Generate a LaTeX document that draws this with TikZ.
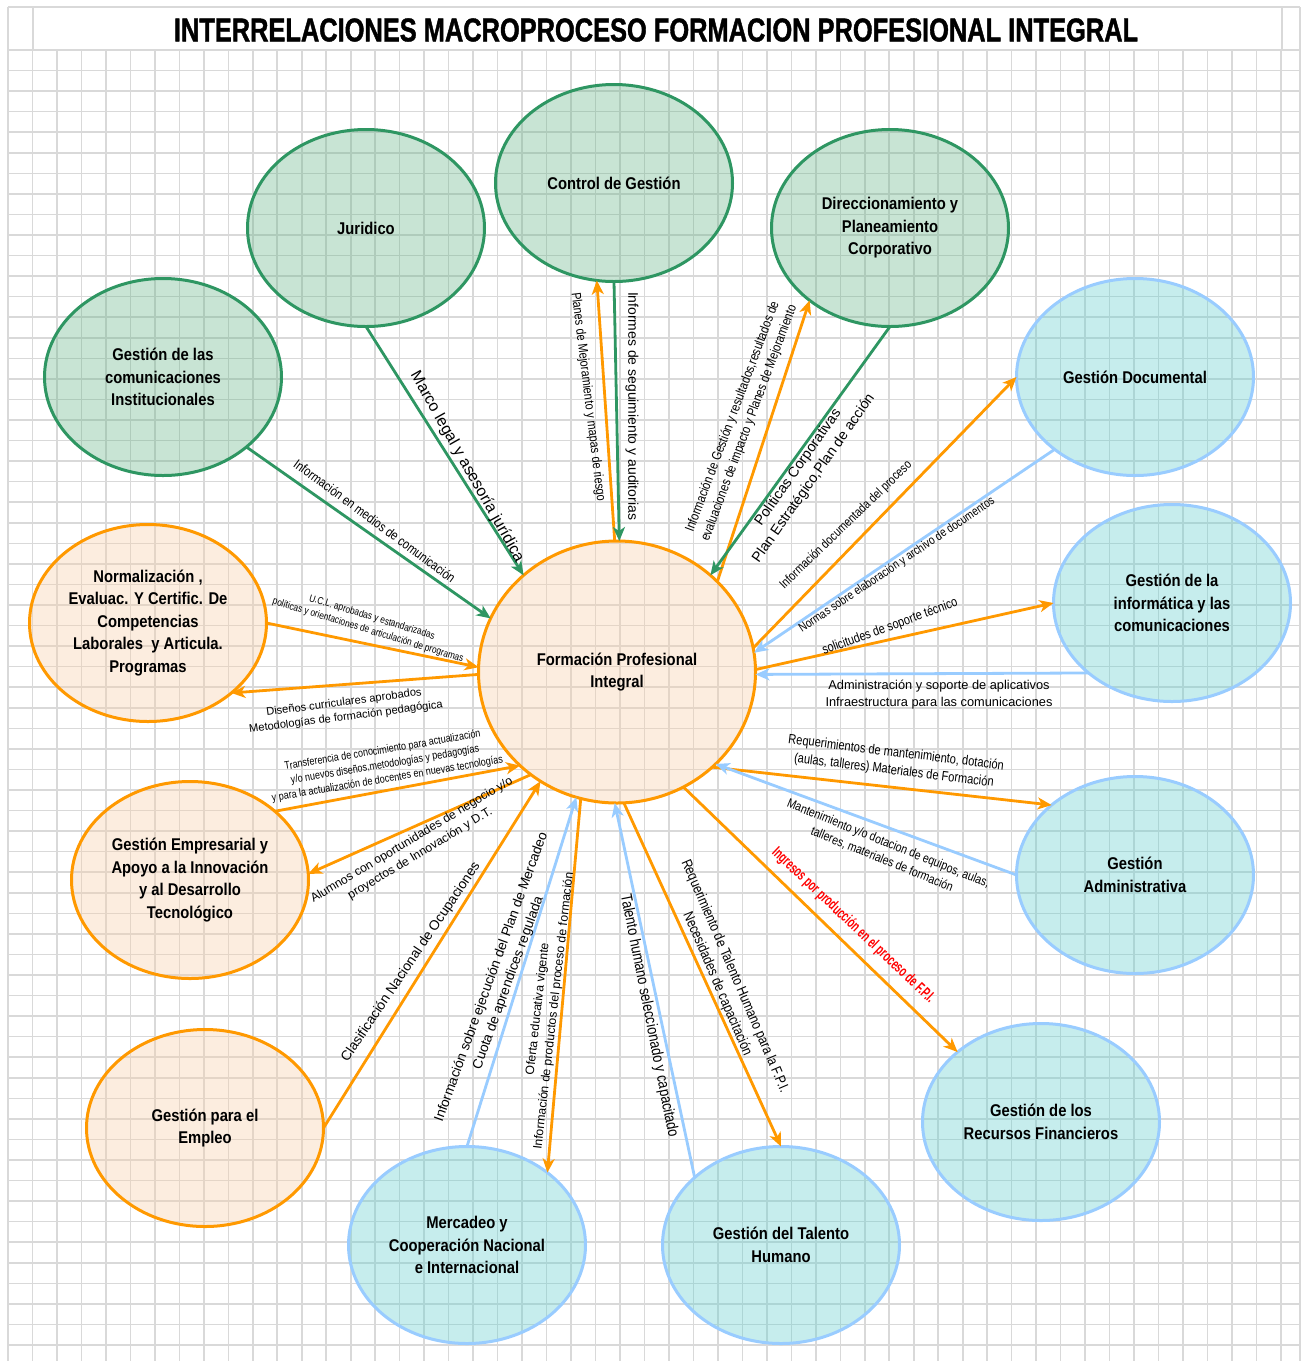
\documentclass[tikz,border=0pt]{standalone}
\usepackage{fontspec}
\usepackage{graphicx}
\setmainfont{Liberation Sans}
\newfontfamily\nar{Liberation Sans}[FakeStretch=0.82]
\newfontfamily\slimbold{Liberation Sans}[FakeStretch=0.64]
\newfontfamily\boxfont{Liberation Sans}[FakeStretch=0.87]
\newfontfamily\titlefont{Liberation Sans}[FakeStretch=0.77,FakeBold=1.2]
\usetikzlibrary{shapes.geometric,arrows.meta}

\definecolor{gridgray}{RGB}{217,217,217}
\definecolor{grn}{RGB}{46,150,98}
\definecolor{grnfill}{RGB}{98,178,132}
\definecolor{org}{RGB}{255,153,0}
\definecolor{orgfill}{RGB}{249,206,166}
\definecolor{blu}{RGB}{153,204,255}
\definecolor{blufill}{RGB}{92,206,206}
\definecolor{redtxt}{RGB}{255,0,0}

% connector labels, set to a given length along their line
\newcommand\fitnar[2]{\resizebox{#1pt}{!}{\nar\renewcommand\arraystretch{1.1}\begin{tabular}{@{}c@{}}#2\end{tabular}}}
\newcommand\fitreg[2]{\resizebox{#1pt}{!}{\renewcommand\arraystretch{1.1}\begin{tabular}{@{}c@{}}#2\end{tabular}}}
\newcommand\fitslim[2]{\resizebox{#1pt}{!}{\slimbold\bfseries\begin{tabular}{@{}c@{}}#2\end{tabular}}}

\begin{document}
\begin{tikzpicture}[x=1pt,y=-1pt,
  gridline/.style={draw=gridgray,line width=1.6pt},
  proc/.style={ellipse,minimum width=237pt,minimum height=197pt,inner sep=0pt,outer sep=0pt,
    line width=3pt,align=center,font=\boxfont\bfseries\fontsize{17}{22.5}\selectfont,
    fill opacity=0.35,text opacity=1,draw opacity=1},
  greenproc/.style={proc,draw=grn,fill=grnfill},
  orangeproc/.style={proc,draw=org,fill=orgfill},
  blueproc/.style={proc,draw=blu,fill=blufill},
  link/.style={line width=2.8pt,-{Stealth[length=14pt,width=12pt,inset=4pt]}},
  glink/.style={link,draw=grn,color=grn},
  olink/.style={link,draw=org,color=org},
  blink/.style={link,draw=blu,color=blu},
  lbl/.style={inner sep=0pt,text=black}]

\useasboundingbox (0,0) rectangle (1306,1361);
\fill[white] (0,0) rectangle (1306,1361);

% spreadsheet grid
\draw[gridline] (8,7) -- (1300,7);
\foreach \xx in {8,33,1282,1300} \draw[gridline] (\xx,7) -- (\xx,50);
\foreach \k in {0,...,52} \draw[gridline] ({8+24.48*\k},50) -- ({8+24.48*\k},1361);
\draw[gridline] (1300,50) -- (1300,1361);
\foreach \k in {0,...,63} \draw[gridline] (8,{50+20.555*\k}) -- (1300,{50+20.555*\k});

% title
\node[font=\titlefont\bfseries\fontsize{33}{36}\selectfont,inner sep=0pt] (title) at (656,30)
  {INTERRELACIONES MACROPROCESO FORMACION PROFESIONAL INTEGRAL};

% processes
\node[orangeproc,minimum width=277pt,minimum height=262pt] (fpi) at (617,672) {Formación Profesional\\Integral};
\node[greenproc] (ctrl) at (614,183) {Control de Gestión};
\node[greenproc] (jur) at (366,228) {Juridico};
\node[greenproc] (dir) at (890,228) {Direccionamiento y\\Planeamiento\\Corporativo};
\node[greenproc] (com) at (163,377) {Gestión de las\\comunicaciones\\Institucionales};
\node[blueproc] (doc) at (1135,377) {Gestión Documental};
\node[orangeproc] (norm) at (148,623) {Normalización ,\\Evaluac. Y Certific. De\\Competencias\\Laborales~ y Articula.\\Programas};
\node[blueproc] (inf) at (1172,603) {Gestión de la\\informática y las\\comunicaciones};
\node[orangeproc] (emp) at (190,880) {Gestión Empresarial y\\Apoyo a la Innovación\\y al Desarrollo\\Tecnológico};
\node[blueproc] (adm) at (1135,875) {Gestión\\Administrativa};
\node[orangeproc] (empl) at (205,1128) {Gestión para el\\Empleo};
\node[blueproc] (fin) at (1041,1122) {Gestión de los\\Recursos Financieros};
\node[blueproc] (merc) at (467,1245) {Mercadeo y\\Cooperación Nacional\\e Internacional};
\node[blueproc] (th) at (781,1245) {Gestión del Talento\\Humano};

% connectors
\draw[glink] (com.-40) -- (fpi.157);
\draw[glink] (jur.-90) -- (fpi.134);
\draw[olink] (fpi.91) -- (ctrl.-100);
\draw[glink] (ctrl.-90) -- (fpi.89);
\draw[olink] (fpi.42) -- (dir.-138);
\draw[glink] (dir.-90) -- (fpi.46);
\draw[olink] (fpi.10) -- (doc.180);
\draw[blink] (doc.-138) -- (fpi.8);
\draw[olink] (fpi.1) -- (inf.180);
\draw[blink] (inf.-140) -- (fpi.-1);
\draw[olink] (fpi.-45) -- (adm.140);
\draw[blink] (adm.180) -- (fpi.-43);
\draw[olink] (fpi.-60) -- (fin.140);
\draw[olink] (fpi.-87) -- (th.90);
\draw[blink] (th.142) -- (fpi.-91);
\draw[blink] (merc.90) -- (fpi.-108);
\draw[olink] (fpi.-106) -- (merc.42);
\draw[olink] (empl.0) -- (fpi.-125);
\draw[olink] (emp.39.5) -- (fpi.-136);
\draw[olink] (fpi.-130) -- (emp.3);
\draw[olink] (norm.0) -- (fpi.178);
\draw[olink] (fpi.-179) -- (norm.-40);

% connector labels
\node[lbl,rotate=-36.5] (lcom) at (374,522) {\fitnar{197}{Información en medios de comunicación}};
\node[lbl,rotate=-60.6] (ljur) at (467,467) {\fitreg{216}{Marco legal y asesoría jurídica}};
\node[lbl,rotate=-83] (lctrla) at (588,397) {\fitnar{210}{Planes de Mejoramiento y mapas de riesgo}};
\node[lbl,rotate=-90] (lctrlb) at (632,406) {\fitreg{228}{Informes de seguimiento y auditorias}};
\node[lbl,rotate=69.5] (ldira) at (741,420) {\fitnar{251}{Información de Gestión y resultados,resultados de\\evaluaciones de impacto y Planes de Mejoramiento}};
\node[lbl,rotate=55] (ldirb) at (806,473) {\fitreg{202}{Políticas Corporativas\\Plan Estratégico,Plan de acción}};
\node[lbl,rotate=44] (ldoca) at (846,525) {\fitnar{178}{Información documentada del proceso}};
\node[lbl,rotate=34] (ldocb) at (897,565) {\fitnar{233}{Normas sobre elaboración y archivo de documentos}};
\node[lbl,rotate=20] (linfa) at (890,627) {\fitnar{143}{solicitudes de soporte técnico}};
\node[lbl] (linfb) at (939,695) {\fitreg{227}{Administración y soporte de aplicativos\\Infraestructura para las comunicaciones}};
\node[lbl,rotate=-7] (ladma) at (895,762) {\fitnar{217}{Requerimientos de mantenimiento, dotación\\(aulas, talleres) Materiales de Formación}};
\node[lbl,rotate=-22] (ladmb) at (885,852) {\fitnar{217}{Mantenimiento y/o dotacion de equipos, aulas,\\talleres, materiales de formación}};
\node[lbl,rotate=-43.5] (lfin) at (853,926) {\fitslim{218}{\color{redtxt}Ingresos por producción en el proceso de F.P.I.}};
\node[lbl,rotate=-66.7] (ltha) at (726,980) {\fitnar{252}{Requerimiento de Talento Humano para la F.P.I.\\Necesidades de capacitación}};
\node[lbl,rotate=-78.8] (lthb) at (649,1016) {\fitnar{247}{Talento humano seleccionado y capacitado}};
\node[lbl,rotate=70] (lmerca) at (500,980) {\fitreg{307}{Información sobre ejecución del Plan de Mercadeo\\Cuota de aprendices regulada}};
\node[lbl,rotate=83.5] (lmercb) at (546,1010) {\fitreg{279}{Oferta educativa vigente\\Información de productos del proceso de formación}};
\node[lbl,rotate=56] (lempl) at (411,962) {\fitreg{237}{Clasificación Nacional de Ocupaciones}};
\node[lbl,rotate=31] (lempa) at (416,847) {\fitreg{233}{Alumnos con oportunidades de negocio y/o\\proyectos de Innovación y D.T.}};
\node[lbl,rotate=9.5] (lempb) at (385,765) {\fitnar{234}{Transferencia de conocimiento para actualización\\y/o nuevos diseños,metodologías y pedagogías\\y para la actualización de docentes en nuevas tecnologías}};
\node[lbl,rotate=-17] (lnorma) at (370,624) {\fitnar{199}{U.C.L. aprobadas y estandarizadas\\políticas y orientaciones de articulación de programas}};
\node[lbl,rotate=7.5] (lnormb) at (345,710) {\fitreg{195}{Diseños curriculares aprobados\\Metodologías de formación pedagógica}};
\end{tikzpicture}
\end{document}
